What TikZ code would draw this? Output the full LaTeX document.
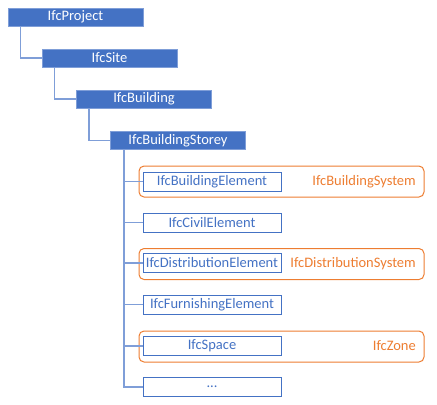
\documentclass[tikz,border=0pt]{standalone}
\usepackage{fontspec}
\setmainfont{Carlito}
\usepackage{xcolor}
\usepackage{tikz}
\definecolor{ifcblue}{HTML}{4472C4}
\definecolor{ifcedge}{HTML}{7F9ED8}
\definecolor{ifcorange}{HTML}{ED7D31}

\tikzset{
  rootbox/.style={draw=ifcedge,line width=0.8bp,fill=ifcblue,text=white,
    minimum width=135bp,minimum height=18bp,inner sep=0},
  elembox/.style={draw=ifcblue,line width=1bp,fill=white,text=ifcblue,
    minimum width=138bp,minimum height=19bp,inner sep=0},
  groupbox/.style={draw=ifcorange,line width=1bp,rounded corners=5bp,
    minimum width=285bp,minimum height=31bp,inner sep=0},
  grouplabel/.style={text=ifcorange,anchor=east,inner sep=0},
  branch/.style={draw=ifcedge,line width=1.5bp}
}

\begin{document}
\begin{tikzpicture}[x=1bp,y=-1bp,font=\fontsize{14.5bp}{16bp}\selectfont]
\useasboundingbox (0,0) rectangle (437,404);

% spatial structure
\node (proj) at ( 75.5, 17.0) [rootbox] {IfcProject};
\node (site) at (109.5, 58.0) [rootbox] {IfcSite};
\node (bldg) at (144.0, 99.0) [rootbox] {IfcBuilding};
\node (stor) at (178.0,140.5) [rootbox] {IfcBuildingStorey};

% groups
\node (gsys)  at (281.5,181.5) [groupbox] {};
\node (gdist) at (281.5,264.0) [groupbox] {};
\node (gzone) at (281.5,346.5) [groupbox] {};
\node (lsys)  at (416,182) [grouplabel] {IfcBuildingSystem};
\node (ldist) at (416,264) [grouplabel] {IfcDistributionSystem};
\node (lzone) at (416,346) [grouplabel] {IfcZone};

% elements
\node (belem) at (212,181.5) [elembox] {IfcBuildingElement};
\node (civil) at (212,222.5) [elembox] {IfcCivilElement};
\node (dist)  at (212,263.0) [elembox] {IfcDistributionElement};
\node (furn)  at (212,304.5) [elembox] {IfcFurnishingElement};
\node (space) at (212,346.0) [elembox] {IfcSpace};
\node (more)  at (212,387.0) [elembox] {...};

\draw [branch] ([xshift=13bp]proj.south west) |- (site.west);
\draw [branch] ([xshift=13bp]site.south west) |- (bldg.west);
\draw [branch] ([xshift=13bp]bldg.south west) |- (stor.west);
\foreach \n in {belem,civil,dist,furn,space,more}
  \draw [branch] ([xshift=14bp]stor.south west) |- (\n.west);
\end{tikzpicture}
\end{document}
